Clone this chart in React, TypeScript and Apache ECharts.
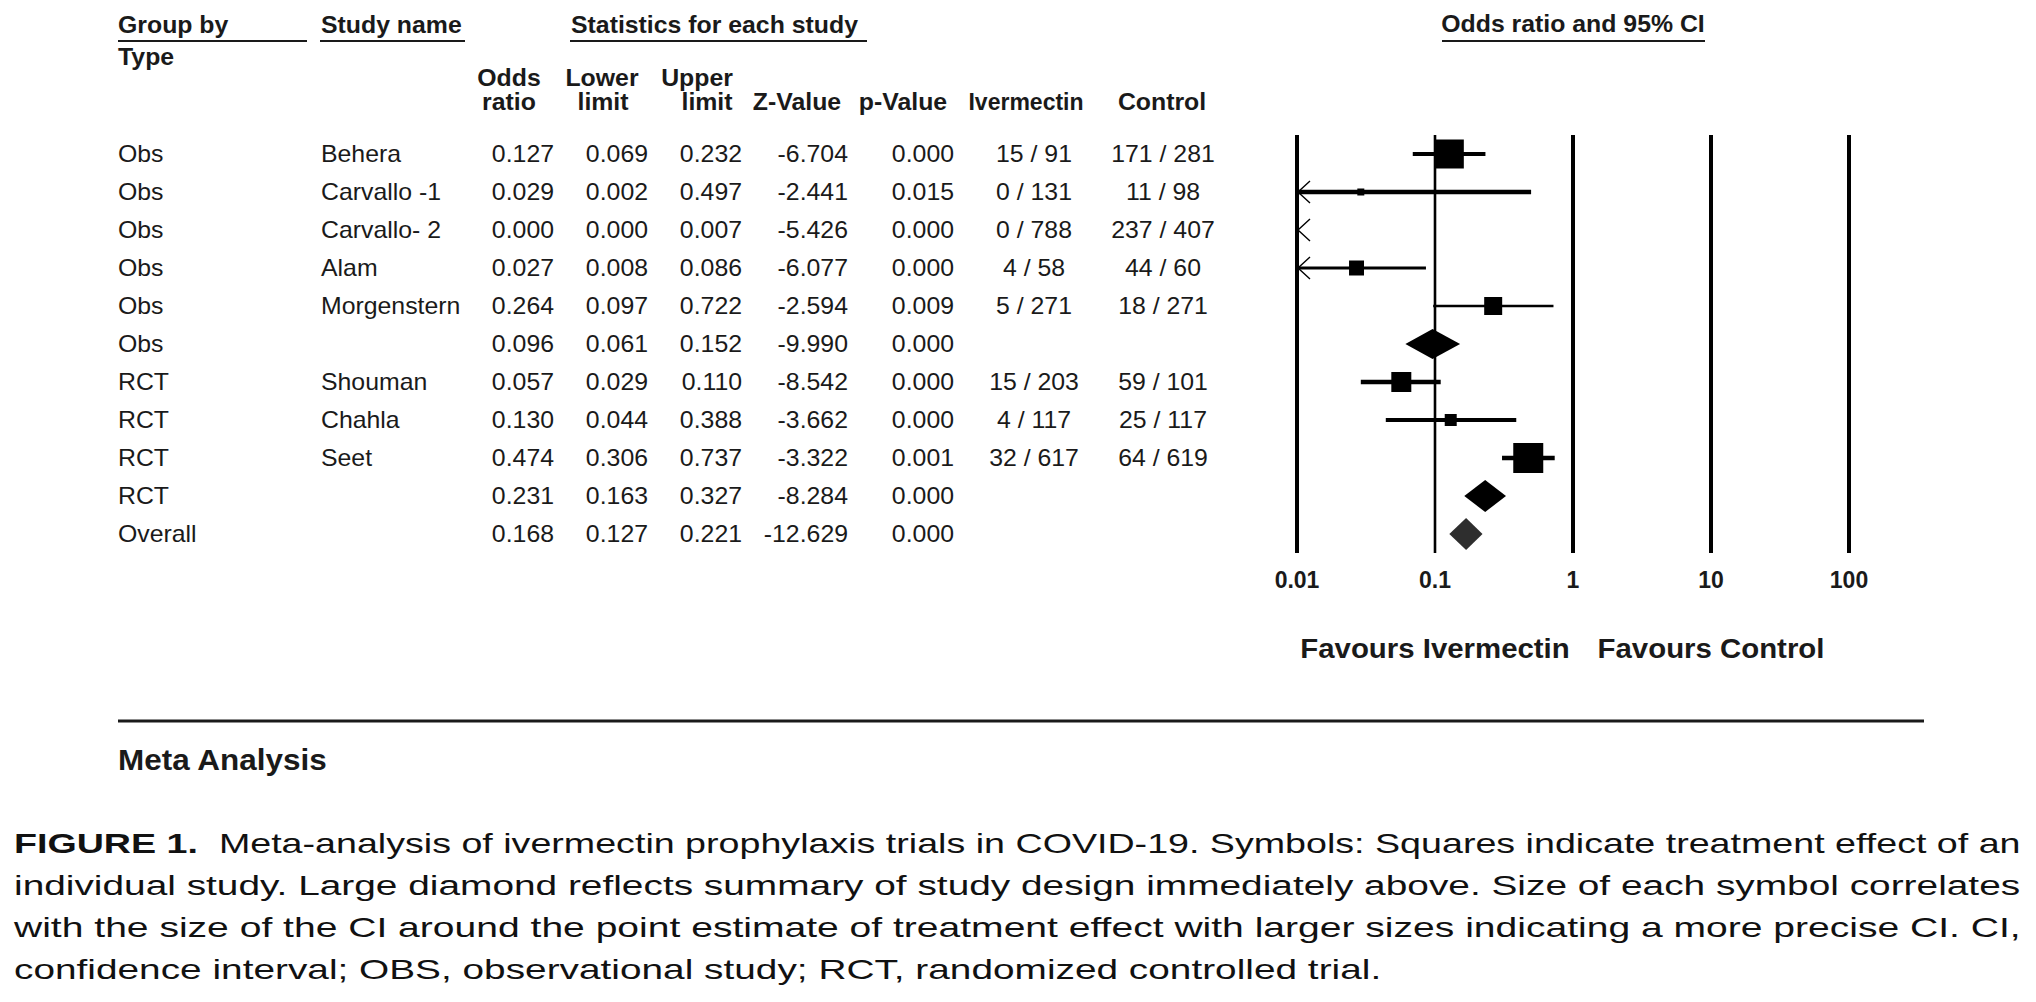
import React, { useEffect, useRef } from "react";
import * as echarts from "echarts";

// ---------------- data ----------------
const groupType = ["Obs", "Obs", "Obs", "Obs", "Obs", "Obs", "RCT", "RCT", "RCT", "RCT", "Overall"];
const studyName = ["Behera", "Carvallo -1", "Carvallo- 2", "Alam", "Morgenstern", "", "Shouman", "Chahla", "Seet", "", ""];
const oddsRatio = [0.127, 0.029, 0.0, 0.027, 0.264, 0.096, 0.057, 0.13, 0.474, 0.231, 0.168];
const lowerLimit = [0.069, 0.002, 0.0, 0.008, 0.097, 0.061, 0.029, 0.044, 0.306, 0.163, 0.127];
const upperLimit = [0.232, 0.497, 0.007, 0.086, 0.722, 0.152, 0.11, 0.388, 0.737, 0.327, 0.221];
const zValue = [-6.704, -2.441, -5.426, -6.077, -2.594, -9.99, -8.542, -3.662, -3.322, -8.284, -12.629];
const pValue = [0.0, 0.015, 0.0, 0.0, 0.009, 0.0, 0.0, 0.0, 0.001, 0.0, 0.0];
const ivermectinEvents = ["15 / 91", "0 / 131", "0 / 788", "4 / 58", "5 / 271", "", "15 / 203", "4 / 117", "32 / 617", "", ""];
const controlEvents = ["171 / 281", "11 / 98", "237 / 407", "44 / 60", "18 / 271", "", "59 / 101", "25 / 117", "64 / 619", "", ""];
const isSummary = [false, false, false, false, false, true, false, false, false, true, true];
const axisTicks = [0.01, 0.1, 1, 10, 100];
const tickLabels = ["0.01", "0.1", "1", "10", "100"];

// ---------------- styles ----------------
const boxSide = [29, 7, 0, 15, 18, 0, 20, 12, 30, 0, 0];
const ciWidth = [4, 4.5, 0, 3, 2.7, 0, 4.3, 4, 4.3, 0, 0];
const diamondHalf = [0, 0, 0, 0, 0, 15, 0, 0, 0, 16, 16];

const W = 2036;
const H = 1002;
const FONT = "'Liberation Sans', Arial, Helvetica, sans-serif";
const INK = "#1a1a1a";
const SX = 1.08;

const captionBold = "FIGURE 1.";
const captionLines = [
  "\u00a0\u00a0Meta-analysis of ivermectin prophylaxis trials in COVID-19. Symbols: Squares indicate treatment effect of an",
  "individual study. Large diamond reflects summary of study design immediately above. Size of each symbol correlates",
  "with the size of the CI around the point estimate of treatment effect with larger sizes indicating a more precise CI. CI,",
  "confidence interval; OBS, observational study; RCT, randomized controlled trial.",
];

function txt(x: number, y: number, text: string, o: any = {}) {
  const align = o.align || "left";
  return {
    type: "text",
    x,
    y,
    scaleX: o.sx ?? SX,
    silent: true,
    style: {
      text,
      fontFamily: FONT,
      fontSize: o.size || 23,
      fontWeight: o.bold ? "bold" : "normal",
      fill: o.color || INK,
      align,
      textAlign: align,
      verticalAlign: "middle",
      textVerticalAlign: "middle",
    },
  };
}

function hline(x1: number, x2: number, y: number, w: number) {
  return { type: "line", silent: true, shape: { x1, y1: y, x2, y2: y }, style: { stroke: INK, lineWidth: w } };
}

export default function App() {
  const ref = useRef<HTMLDivElement>(null);

  useEffect(() => {
    document.body.style.margin = "0";
    const chart = echarts.init(ref.current!, undefined, { renderer: "svg", width: W, height: H });
    const xMin = axisTicks[0];

    chart.setOption({
      animation: false,
      backgroundColor: "#ffffff",
      grid: { left: 1297, top: 135, width: 552, height: 418, containLabel: false },
      xAxis: {
        type: "log",
        logBase: 10,
        min: axisTicks[0],
        max: axisTicks[axisTicks.length - 1],
        axisLine: { show: false },
        axisTick: { show: false },
        splitLine: { show: false },
        axisLabel: {
          margin: 15,
          fontFamily: FONT,
          fontSize: 23,
          fontWeight: "bold",
          color: INK,
          formatter: (v: number) => {
            const k = axisTicks.findIndex((t) => Math.abs(Math.log10(t) - Math.log10(v)) < 1e-6);
            return k >= 0 ? tickLabels[k] : "";
          },
        },
      },
      yAxis: { type: "value", min: -0.5, max: 10.5, inverse: true, show: false },
      series: [
        {
          type: "custom",
          z: 1,
          silent: true,
          data: axisTicks.map((v) => [v]),
          encode: { x: 0 },
          renderItem: (params: any, api: any) => {
            const v = api.value(0);
            const x = api.coord([v, 0])[0];
            const cs = params.coordSys;
            return {
              type: "line",
              shape: { x1: x, y1: cs.y, x2: x, y2: cs.y + cs.height },
              style: { stroke: "#000", lineWidth: v === 0.1 ? 2.6 : 4 },
            };
          },
        },
        {
          type: "custom",
          z: 2,
          silent: true,
          data: oddsRatio.map((v, i) => [v, lowerLimit[i], upperLimit[i], i]),
          encode: { x: 2, y: 3 },
          renderItem: (params: any, api: any) => {
            const i = params.dataIndex;
            const or = api.value(0);
            const lo = api.value(1);
            const hi = api.value(2);
            const row = api.value(3);
            const yc = api.coord([1, row])[1];
            const xOf = (v: number) => api.coord([Math.max(v, xMin), row])[0];
            const children: any[] = [];
            if (isSummary[i]) {
              const h = diamondHalf[i];
              const xl = xOf(lo);
              const xr = xOf(hi);
              const xm = xOf(or);
              children.push({
                type: "polygon",
                shape: { points: [[xl, yc], [xm, yc - h], [xr, yc], [xm, yc + h]] },
                style: { fill: groupType[i] === "Overall" ? "#2e2e2e" : "#000" },
              });
            } else {
              if (hi > xMin) {
                children.push({
                  type: "line",
                  shape: { x1: xOf(lo), y1: yc, x2: xOf(hi), y2: yc },
                  style: { stroke: "#000", lineWidth: ciWidth[i] },
                });
              }
              if (lo < xMin) {
                const x0 = xOf(xMin);
                children.push({
                  type: "polyline",
                  shape: { points: [[x0 + 13, yc - 11], [x0 + 1, yc], [x0 + 13, yc + 11]] },
                  style: { stroke: "#000", lineWidth: 1.4, fill: "none" },
                });
              }
              if (or >= xMin && boxSide[i] > 0) {
                const s = boxSide[i];
                const xm = xOf(or);
                children.push({
                  type: "rect",
                  shape: { x: xm - s / 2, y: yc - s / 2, width: s, height: s },
                  style: { fill: "#000" },
                });
              }
            }
            return { type: "group", children };
          },
        },
      ],
    });

    const rowY = oddsRatio.map((_, i) => chart.convertToPixel({ gridIndex: 0 }, [1, i])[1] as number);
    const xAt = (v: number) => chart.convertToPixel({ gridIndex: 0 }, [v, 0])[0] as number;

    const els: any[] = [];
    // header
    els.push(txt(118, 25, "Group by", { bold: true }));
    els.push(hline(118, 307, 41, 2));
    els.push(txt(321, 25, "Study name", { bold: true }));
    els.push(hline(320, 465, 41, 2));
    els.push(txt(571, 25, "Statistics for each study", { bold: true }));
    els.push(hline(570, 867, 41, 2));
    els.push(txt(118, 57, "Type", { bold: true }));
    const h1 = 78;
    const h2 = 102;
    els.push(txt(509, h1, "Odds", { bold: true, align: "center" }));
    els.push(txt(509, h2, "ratio", { bold: true, align: "center" }));
    els.push(txt(602, h1, "Lower", { bold: true, align: "center" }));
    els.push(txt(603, h2, "limit", { bold: true, align: "center" }));
    els.push(txt(697, h1, "Upper", { bold: true, align: "center" }));
    els.push(txt(707, h2, "limit", { bold: true, align: "center" }));
    els.push(txt(797, h2, "Z-Value", { bold: true, align: "center" }));
    els.push(txt(903, h2, "p-Value", { bold: true, align: "center" }));
    els.push(txt(1026, h2, "Ivermectin", { bold: true, align: "center", sx: 1.0 }));
    els.push(txt(1162, h2, "Control", { bold: true, align: "center" }));
    const xOne = xAt(1);
    els.push(txt(xOne, 24, "Odds ratio and 95% CI", { bold: true, align: "center" }));
    els.push(hline(xOne - 131, xOne + 132, 41, 2));

    // rows
    oddsRatio.forEach((v, i) => {
      const y = rowY[i];
      els.push(txt(118, y, groupType[i]));
      if (studyName[i]) els.push(txt(321, y, studyName[i]));
      els.push(txt(554, y, v.toFixed(3), { align: "right" }));
      els.push(txt(648, y, lowerLimit[i].toFixed(3), { align: "right" }));
      els.push(txt(742, y, upperLimit[i].toFixed(3), { align: "right" }));
      els.push(txt(848, y, zValue[i].toFixed(3), { align: "right" }));
      els.push(txt(954, y, pValue[i].toFixed(3), { align: "right" }));
      if (ivermectinEvents[i]) els.push(txt(1034, y, ivermectinEvents[i], { align: "center" }));
      if (controlEvents[i]) els.push(txt(1163, y, controlEvents[i], { align: "center" }));
    });

    // favours labels
    els.push(txt(xAt(0.1), 648, "Favours Ivermectin", { bold: true, align: "center", size: 28, sx: 1.05 }));
    els.push(txt(xAt(10), 648, "Favours Control", { bold: true, align: "center", size: 28, sx: 1.05 }));

    // footer
    els.push(hline(118, 1924, 721, 3));
    els.push(txt(118, 760, "Meta Analysis", { bold: true, size: 29, sx: 1.085 }));

    // caption
    const ctx = document.createElement("canvas").getContext("2d")!;
    const measure = (t: string, bold: boolean) => {
      ctx.font = `${bold ? "bold " : ""}28px ${FONT}`;
      return ctx.measureText(t).width;
    };
    const capLeft = 14;
    const capRight = 2021;
    const capY = [843, 885, 927, 969];
    const lastRight = 1382;
    captionLines.forEach((line, k) => {
      const boldW = k === 0 ? measure(captionBold, true) : 0;
      const natural = boldW + measure(line, false);
      const target = (k === captionLines.length - 1 ? lastRight : capRight) - capLeft;
      const s = target / natural;
      if (k === 0) {
        els.push(txt(capLeft, capY[k], captionBold, { bold: true, size: 28, sx: s, color: "#111" }));
      }
      els.push(txt(capLeft + boldW * s, capY[k], line, { size: 28, sx: s, color: "#111" }));
    });

    chart.setOption({ graphic: { elements: els } });

    return () => chart.dispose();
  }, []);

  return <div ref={ref} style={{ width: W, height: H, background: "#fff" }} />;
}
